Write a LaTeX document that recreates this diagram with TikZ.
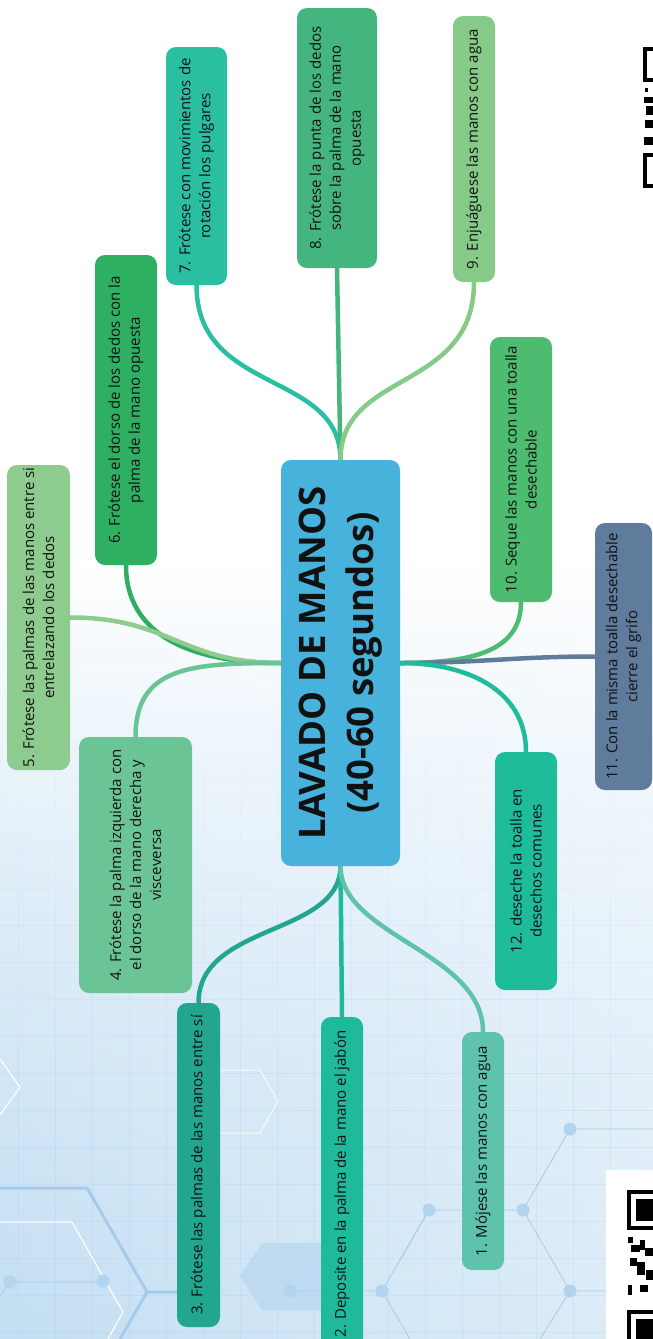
\documentclass[tikz,border=0pt]{standalone}
\usepackage{fontspec}
\setmainfont{Open Sans}
\usetikzlibrary{calc,fadings}
\pgfdeclarelayer{bg}
\pgfsetlayers{bg,main}

% palette
\definecolor{ctitle}{HTML}{47B3DD}
\definecolor{cone}{HTML}{5EC2AC}
\definecolor{ctwo}{HTML}{1FB99B}
\definecolor{cthree}{HTML}{22A690}
\definecolor{cfour}{HTML}{6BC496}
\definecolor{cfive}{HTML}{8DCB8F}
\definecolor{csix}{HTML}{2FAF62}
\definecolor{cseven}{HTML}{2ABFA1}
\definecolor{ceight}{HTML}{45B57F}
\definecolor{cnine}{HTML}{86CA87}
\definecolor{cten}{HTML}{4DBC70}
\definecolor{celeven}{HTML}{5F7C9D}
\definecolor{ctwelve}{HTML}{1EBC9A}
\definecolor{txt}{HTML}{111111}
\definecolor{bgblue}{HTML}{C4DFF3}
\definecolor{netline}{HTML}{A6CBEA}
\definecolor{netdot}{HTML}{B3D4EE}

\tikzset{
  box/.style={rotate=90, rounded corners=10pt, align=center, inner sep=0pt,
    text=txt, font=\fontsize{15}{20}\selectfont},
  branch/.style={line width=4.5pt, line cap=round},
  gridline/.style={line width=0.8pt, netline},
}

\begin{document}
\begin{tikzpicture}[x=1pt,y=-1pt]
\useasboundingbox (0,0) rectangle (653,1339);

% ---------- background ----------
\begin{pgfonlayer}{bg}
\fill[white] (0,0) rectangle (653,1339);
\shade[top color=white, bottom color=bgblue] (0,560) rectangle (653,1339);
\shade[left color=bgblue, right color=white, opacity=0.45, path fading=north] (0,560) rectangle (653,1339);

% faint grid, stronger towards the bottom
\foreach \op/\ya/\yb in {0.08/760/900, 0.16/900/1050, 0.26/1050/1339}{
  \begin{scope}
    \clip (0,\ya) rectangle (653,\yb);
    \foreach \gx in {18,55,92,129,166,203,240,277,314,351,388,425,462,499,536,573,610}
      \draw[gridline, opacity=\op] (\gx,760) -- (\gx,1339);
    \foreach \gy in {777,814,851,888,925,962,999,1036,1073,1110,1147,1184,1221,1258,1295,1332}
      \draw[gridline, opacity=\op] (0,\gy) -- (653,\gy);
  \end{scope}
}

% hexagon network
\fill[netdot, opacity=0.6] (262,1243) -- (323,1243) -- (345,1276) -- (323,1310) -- (262,1310) -- (240,1276) -- cycle;
\draw[netline, line width=3pt] (0,1188) -- (87,1188) -- (147,1292) -- (180,1292);
\draw[netline, line width=3pt] (147,1292) -- (120,1339);
\draw[white, line width=1.2pt] (0,1222) -- (72,1222) -- (123,1312) -- (108,1339);
\draw[white, line width=1.2pt] (0,1059) -- (20,1087) -- (0,1115);
\draw[white, line width=1pt, opacity=0.8] (220,1070) -- (260,1070) -- (278,1101) -- (260,1133) -- (220,1133);
\draw[netline, line width=0.8pt] (0,1296) -- (10,1282) -- (103,1282);
\draw[netline, line width=0.8pt] (290,1291) -- (382,1291) -- (429,1210) -- (523,1210) -- (570,1129) -- (653,1129);
\draw[netline, line width=0.8pt] (523,1210) -- (570,1291) -- (610,1291);
\draw[netline, line width=0.8pt] (382,1291) -- (410,1339);
\draw[netline, line width=0.8pt] (429,1210) -- (400,1260);
\draw[netline, line width=0.8pt] (570,1291) -- (540,1339);
\foreach \dx/\dy in {10/1282,103/1281,290/1291,382/1291,429/1210,523/1210,570/1129,570/1291}
  \fill[netdot] (\dx,\dy) circle (6.5);
\end{pgfonlayer}

% ---------- QR code fragments ----------
\fill[white] (606,1170) rectangle (653,1339);
\fill[black] (627,1190) rectangle (653,1230);
\fill[white] (631,1194) rectangle (653,1226);
\fill[black] (636,1199) rectangle (653,1221);
\foreach \qa/\qb/\qc/\qd in {628/1237/633/1243, 631/1245/640/1252, 640/1240/645/1250,
  645/1248/653/1256, 630/1258/637/1266, 637/1262/645/1275, 646/1270/653/1280,
  628/1285/632/1295, 640/1285/648/1292}
  \fill[black] (\qa,\qb) rectangle (\qc,\qd);
\fill[black] (627,1310) rectangle (653,1339);
\fill[white] (631,1314) rectangle (653,1339);
\fill[black] (636,1319) rectangle (653,1339);

\fill[black] (643,47) rectangle (653,82);
\fill[white] (647,51) rectangle (653,78);
\foreach \qa/\qb/\qc/\qd in {645/88/648/92, 644/97/653/103, 646/106/653/115,
  645/120/653/128, 644/137/653/145}
  \fill[black] (\qa,\qb) rectangle (\qc,\qd);
\fill[black] (643,153) rectangle (653,188);
\fill[white] (647,157) rectangle (653,184);

% ---------- nodes ----------
\node[box, fill=ctitle, minimum width=406pt, minimum height=119pt,
      font=\bfseries\fontsize{36.5}{48}\selectfont] (c) at (340.5,663)
      {LAVADO DE MANOS\\(40-60 segundos)};

\node[box, fill=cone, minimum width=238pt, minimum height=42pt] (b1) at (483,1151)
      {1. Mójese las manos con agua};
\node[box, fill=ctwo, minimum width=334pt, minimum height=42pt] (b2) at (342,1184)
      {2. Deposite en la palma de la mano el jabón};
\node[box, fill=cthree, minimum width=324pt, minimum height=43pt] (b3) at (198.5,1165)
      {3. Frótese las palmas de las manos entre sí};
\node[box, fill=cfour, minimum width=256pt, minimum height=113pt] (b4) at (135.5,865)
      {4. Frótese la palma izquierda con\\el dorso de la mano derecha y\\visceversa};
\node[box, fill=cfive, minimum width=305pt, minimum height=63pt] (b5) at (38.5,617.5)
      {5. Frótese las palmas de las manos entre si\\entrelazando los dedos};
\node[box, fill=csix, minimum width=310pt, minimum height=62pt] (b6) at (126,410)
      {6. Frótese el dorso de los dedos con la\\palma de la mano opuesta};
\node[box, fill=cseven, minimum width=238pt, minimum height=61pt] (b7) at (196.5,166)
      {7. Frótese con movimientos de\\rotación los pulgares};
\node[box, fill=ceight, minimum width=260pt, minimum height=80pt] (b8) at (337,138)
      {8. Frótese la punta de los dedos\\sobre la palma de la mano\\opuesta};
\node[box, fill=cnine, minimum width=266pt, minimum height=42pt] (b9) at (474,149)
      {9. Enjuáguese las manos con agua};
\node[box, fill=cten, minimum width=265pt, minimum height=62pt] (b10) at (521,469.5)
      {10. Seque las manos con una toalla\\desechable};
\node[box, fill=celeven, minimum width=267pt, minimum height=57pt] (b11) at (623.5,656.5)
      {11. Con la misma toalla desechable\\cierre el grifo};
\node[box, fill=ctwelve, minimum width=238pt, minimum height=62pt] (b12) at (526,871)
      {12. deseche la toalla en\\desechos comunes};

% ---------- branches ----------
\begin{pgfonlayer}{bg}
\draw[branch, cseven] (c.east) .. controls +(0,-90) and +(0,110) .. (b7.west);
\draw[branch, ceight] (c.east) -- (b8.west);
\draw[branch, cnine] (c.east) .. controls +(0,-90) and +(0,110) .. (b9.west);
\draw[branch, csix] (c.north) .. controls +(-90,0) and +(0,70) .. (b6.west);
\draw[branch, cfive] (c.north) .. controls +(-100,0) and +(100,0) .. (b5.south);
\draw[branch, cfour] (c.north) .. controls +(-90,0) and +(0,-70) .. (b4.east);
\draw[branch, cten] (c.south) .. controls +(70,0) and +(0,50) .. (b10.west);
\draw[branch, celeven] (c.south) .. controls +(80,0) and +(-80,0) .. (b11.north);
\draw[branch, ctwelve] (c.south) .. controls +(70,0) and +(0,-60) .. (b12.east);
\draw[branch, cthree] (c.west) .. controls +(0,70) and +(0,-80) .. (b3.east);
\draw[branch, ctwo] (c.west) -- (b2.east);
\draw[branch, cone] (c.west) .. controls +(0,70) and +(0,-80) .. (b1.east);
\end{pgfonlayer}
\end{tikzpicture}
\end{document}
